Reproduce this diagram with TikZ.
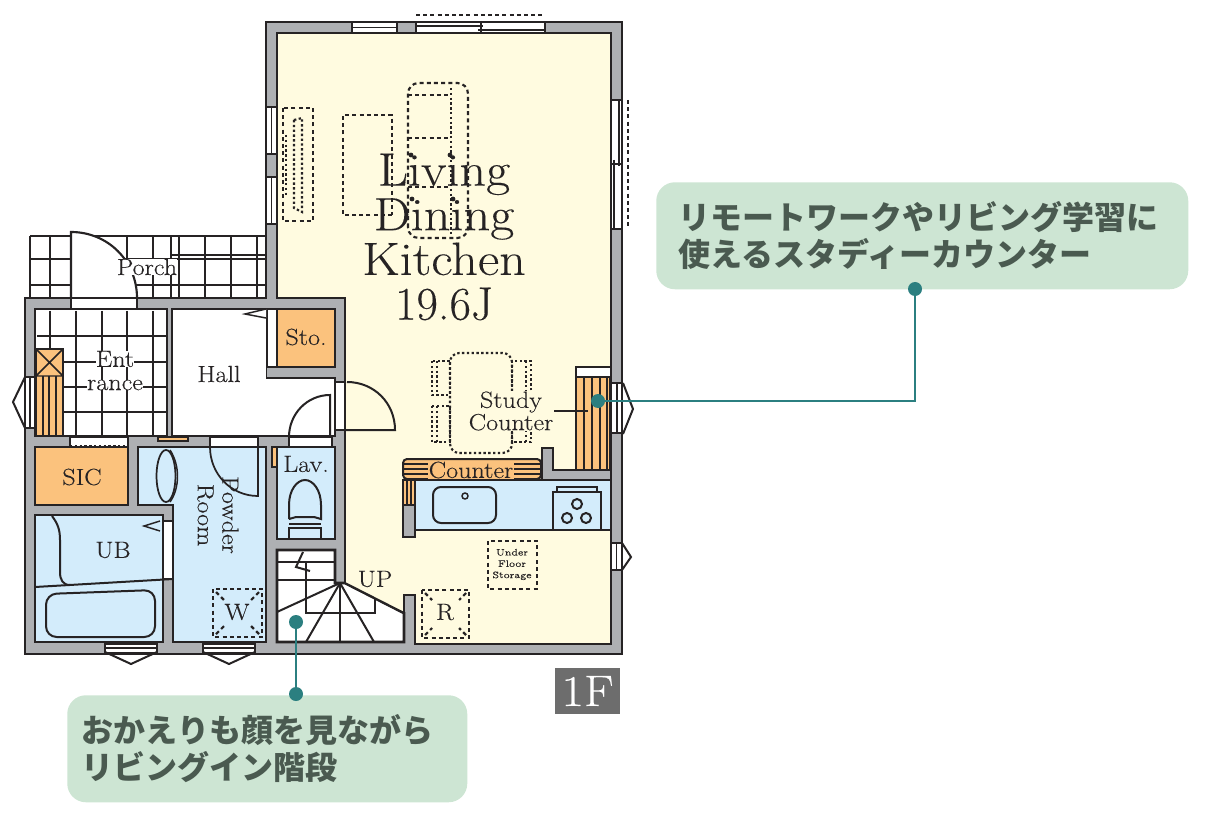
\documentclass[tikz,border=0pt]{standalone}
\usepackage{fontspec}
\setmainfont{Latin Modern Roman}[FakeStretch=1.12, FakeBold=0.2]
\newfontfamily\jpfont{Noto Sans CJK JP}
\newfontfamily\numfont{Latin Modern Roman}[FakeBold=0.2]
\usepackage{tikz}
\usetikzlibrary{calc,positioning}
\definecolor{wallgray}{HTML}{AEB0B3}
\definecolor{linedark}{HTML}{262324}
\definecolor{creamroom}{HTML}{FFFBE0}
\definecolor{blueroom}{HTML}{D3ECFB}
\definecolor{orangeroom}{HTML}{FBC27D}
\definecolor{tealmark}{HTML}{2B7F80}
\definecolor{calloutgreen}{HTML}{CDE5D3}
\definecolor{callouttext}{HTML}{4A5A50}
\definecolor{floorgray}{HTML}{6D6D6D}

\begin{document}
\begin{tikzpicture}[x=0.75pt, y=-0.75pt, line join=miter,
  room/.style={draw=linedark, line width=2.1pt},
  wall/.style={draw=linedark, line width=1.5pt, fill=wallgray},
  thin/.style={draw=linedark, line width=1.1pt},
  fine/.style={draw=linedark, line width=0.85pt},
  opening/.style={draw=linedark, line width=1.1pt, fill=white},
  furn/.style={draw=linedark, line width=1.6pt, dash pattern=on 3pt off 2.4pt},
  dots/.style={draw=linedark, line width=1.6pt, dash pattern=on 1.8pt off 1.8pt},
  label/.style={text=linedark, inner sep=0.6pt, align=center, font=\fontsize{17.5}{17.5}\selectfont},
  halo/.style={label, fill=white, inner sep=0pt},
  callout/.style={fill=calloutgreen, rounded corners=14pt, anchor=north west, inner ysep=0pt, inner xsep=17pt,
    minimum height=80.25pt, align=left, text=callouttext,
    font=\jpfont\bfseries\fontsize{24}{27.75}\selectfont},
  tealdot/.style={circle, fill=tealmark, inner sep=0pt, minimum size=10.5pt},
  leader/.style={draw=tealmark, line width=1.1pt}]
\useasboundingbox (0,0) rectangle (1230,816);

%Porch tiles
\foreach \tx in {30,50,127,153,179,205,231,257}
  \draw[fine] (\tx,236) -- (\tx,298);
\foreach \ty in {259,285}
  \draw[fine] (30,\ty) -- (267,\ty);
\draw[thin] (30,236) -- (267,236);
\draw[thin] (171,255) -- (267,255);
\draw[thin] (171,236) -- (171,298);
\fill[white] (71,232) .. controls (108,232) and (137,261) .. (137,298) -- (71,298) -- cycle;
\draw[thin, line width=1.6pt] (137,298) .. controls (137,261) and (108,232) .. (71,232) -- (71,298);

%Walls
\draw[wall] (266,22) -- (622,22) -- (622,654) -- (25,654) -- (25,298) -- (266,298) -- cycle;

%Rooms
\draw[room, fill=white] (277,550) -- (335,550) -- (335,583) -- (345,583) -- (404,613) -- (404,642) -- (277,642) -- cycle;
\fill[creamroom] (277,33) -- (611,33) -- (611,644) -- (415,644) -- (415,595) -- (404,595) -- (404,613) -- (345,583) -- (345,298) -- (277,298) -- cycle;
\draw[room] (345,583) -- (345,298) -- (277,298) -- (277,33) -- (611,33) -- (611,644) -- (415,644) -- (415,595) -- (404,595) -- (404,613);
\draw[thin, line width=1.5pt] (345,583) -- (404,613);
\draw[room, fill=white] (35,309) rectangle (167,436);
\draw[room, fill=white] (172,309) -- (267,309) -- (267,378) -- (335,378) -- (335,436) -- (172,436) -- cycle;
\draw[room, fill=orangeroom] (277,309) rectangle (335,367);
\draw[wall, draw=none] (267,367) rectangle (335,378);
\draw[thin, line width=1.6pt] (267,367) -- (335,367) (267,378) -- (335,378);
\draw[room, fill=orangeroom] (35,447) rectangle (128,505);
\draw[room, fill=blueroom] (138,447) -- (266,447) -- (266,642) -- (173,642) -- (173,505) -- (138,505) -- cycle;
\draw[room, fill=blueroom] (277,447) rectangle (335,539);
\draw[room, fill=blueroom] (35,515) rectangle (163,642);

%Entrance tiles
\foreach \tx in {50,76,102,127,153}
  \draw[fine] (\tx,311) -- (\tx,435);
\foreach \ty in {336,362,387,412}
  \draw[fine] (37,\ty) -- (166,\ty);

%Shoe cupboard
\draw[thin, fill=orangeroom] (36,349) rectangle (63,436);
\draw[thin] (36,349) -- (63,376) (63,349) -- (36,376) (36,376) -- (63,376);
\foreach \sx in {43,49,56}
  \draw[fine] (\sx,376) -- (\sx,436);

%Openings
\draw[opening] (71,298) rectangle (137,309);
\draw[opening] (267,309) rectangle (277,367);
\draw[thin, fill=white] (266,309) -- (245,314) -- (266,318);
\draw[opening] (70,437) rectangle (128,447);
\draw[dots, draw=linedark] (70,446) -- (128,446);
\draw[opening] (335,382) rectangle (345,430);
\draw[opening] (210,437) rectangle (258,447);
\draw[opening] (289,437) rectangle (332,447);
\draw[opening] (163,521) rectangle (173,579);
\draw[thin] (160,521) -- (144,526) -- (160,531);
\draw[thin, fill=orangeroom] (158,437) rectangle (188,441);
\draw[fine, fill=orangeroom] (272,447) rectangle (277,467);

%Doors
\draw[thin, line width=1.5pt] (289,437) .. controls (289,414) and (307,395) .. (330,395) -- (330,437);
\draw[thin, line width=1.5pt] (347,382) .. controls (374,382) and (395,403) .. (395,430) -- (345,430);
\draw[thin, line width=1.3pt] (210,447) .. controls (210,474) and (231,496) .. (258,496) -- (258,447);

%Windows
\foreach \wa/\wb in {107/154,177/224}{
  \draw[opening] (266,\wa) rectangle (277,\wb);
  \draw[thin] (271.5,\wa) -- (271.5,\wb);
}
\draw[opening] (352,22) rectangle (397,33);
\draw[thin] (352,27.5) -- (397,27.5);
\draw[opening] (416,22) rectangle (545,33);
\draw[thin, line width=1.5pt] (416,26) -- (483,26) (478,30) -- (545,30);
\draw[thin] (481,21) -- (481,33);
\draw[furn] (416,15) -- (545,15);
\draw[opening] (611,100) rectangle (622,229);
\draw[thin, line width=1.5pt] (619,100) -- (619,166) (614,160) -- (614,229);
\draw[thin] (610,164) -- (623,164);
\draw[furn] (628,100) -- (628,229);
\draw[opening] (25,377) rectangle (35,428);
\draw[thin] (30,377) -- (30,428);
\draw[thin, line width=1.5pt] (25,377) -- (13,402) -- (25,428);
\draw[opening] (611,383) rectangle (622,433);
\draw[thin] (617,383) -- (617,433);
\draw[thin, line width=1.5pt] (623,383) -- (633,409) -- (623,434);
\draw[opening] (611,543) rectangle (622,570);
\draw[thin] (616.5,543) -- (616.5,570);
\draw[thin, line width=1.5pt] (622,543) -- (631,557) -- (622,570);
\foreach \wa/\wb in {105/157,203/255}{
  \draw[opening] (\wa,644) rectangle (\wb,653);
  \draw[thin] (\wa,648) -- (\wb,648);
  \draw[thin, line width=1.5pt] (\wa,652) -- ({(\wa+\wb)/2},664) -- (\wb,652);
}

%Living furniture
\draw[furn] (283,108) rectangle (313,221);
\draw[dots] (294,120) -- (294,208) -- (302,212) -- (302,118) -- (294,120);
\draw[dots] (286,135) -- (286,197);
\draw[furn] (392,215) -- (343,215) -- (343,115) -- (392,115) -- (392,215);
\draw[furn, rounded corners=8pt] (408,238) -- (408,83) -- (468,83) -- (468,238) -- cycle;
\draw[dots] (451,88) -- (451,236);
\draw[furn] (408,95) -- (451,95) (408,138) -- (451,138) (408,187) -- (451,187);
\foreach \fx/\fy in {411/155,450/155,412/199,453/199}
  \fill[linedark] (\fx,\fy) circle (2.4);

%Dining furniture
\draw[dots, rounded corners=7pt] (450,353) rectangle (512,453);
\foreach \ca/\cb in {361/395,406/442}{
  \draw[dots] (432,\ca) rectangle (450,\cb);
  \draw[dots] (437,\ca) -- (437,\cb);
  \draw[dots] (512,\ca) rectangle (531,\cb);
  \draw[dots] (526,\ca) -- (526,\cb);
}

%Kitchen
\draw[room, fill=blueroom] (415,480) rectangle (611,530);
\draw[wall] (542,470) -- (542,448) -- (553,448) -- (553,470) -- (611,470) -- (611,480) -- (542,480) -- cycle;
\draw[thin, line width=1.5pt, fill=orangeroom, rounded corners=3pt] (403,479) -- (403,459) -- (541,459) -- (541,479) -- cycle;
\foreach \cy in {464,469,474}
  \draw[fine] (404,\cy) -- (540,\cy);
\draw[thin, fill=orangeroom] (403,480) rectangle (415,505);
\foreach \cx in {407,411}
  \draw[fine] (\cx,480) -- (\cx,505);
\draw[wall] (403,505) rectangle (415,537);
\draw[thin, line width=1.5pt, rounded corners=6pt] (433,487) rectangle (496,523);
\draw[thin] (465,496) circle (3);
\draw[thin, line width=1.5pt] (553,492) rectangle (601,530);
\draw[thin] (557,492) -- (557,487) -- (597,487) -- (597,492);
\foreach \bx/\by in {577/504,567/518,586/518}
  \draw[thin, line width=1.5pt] (\bx,\by) circle (5);

%Study counter
\draw[room, fill=white] (576,367) rectangle (611,377);
\draw[thin, fill=orangeroom] (576,377) rectangle (610,470);
\foreach \sx in {584,592,600,607}
  \draw[fine, line width=0.9pt] (\sx,377) -- (\sx,470);

%Bath
\draw[thin, line width=1.5pt] (52,516) .. controls (58,524) and (60,530) .. (60,540) -- (60,572) .. controls (60,580) and (63,585) .. (70,585);
\draw[thin, line width=1.5pt] (35,587) -- (173,579);
\draw[thin, line width=1.5pt, rounded corners=8pt] (46,594) -- (155,590) -- (155,637) -- (46,637) -- cycle;
\draw[thin, line width=1.3pt] (166,476) ellipse (9.5 and 26);
\draw[thin] (170,450) .. controls (180,465) and (180,488) .. (170,502);

%Toilet
\draw[thin, line width=1.5pt] (289,519) -- (289,505) .. controls (289,490) and (297,480) .. (305,480) .. controls (313,480) and (321,490) .. (321,505) -- (321,519) -- (314,517) -- (296,517) -- (289,519);
\draw[thin, line width=1.5pt] (289,538) -- (289,528) -- (321,528) -- (321,538);
\draw[thin, line width=1.5pt] (289,524) -- (321,524);

%Stairs
\draw[thin] (277,562) -- (335,562) (277,580) -- (335,580);
\draw[thin, line width=1.5pt] (306,562) -- (306,613) -- (375,613) -- (375,598);
\foreach \ex/\ey in {277/612,306/642,340/642,374/642}
  \draw[thin, line width=1.5pt] (340,583) -- (\ex,\ey);
\draw[thin, line width=1.5pt] (303,552) -- (296,567) -- (310,571);

%Marks on floor
\draw[furn] (422,590) rectangle (469,638);
\draw[furn] (488,541) rectangle (537,589);
\draw[furn] (213,589) rectangle (262,637);
\draw[furn] (216,592) -- (226,602) (259,592) -- (249,602) (216,634) -- (226,624) (259,634) -- (249,624);
\draw[furn] (425,593) -- (432,600) (466,593) -- (459,600) (425,635) -- (432,628) (466,635) -- (459,628);

%Text
\node[label, font=\fontsize{35}{33.5}\selectfont] (ldk) at (444,237) {Living\\Dining\\Kitchen\\{\numfont 19.6J}};
\node[halo] (porch) at (147,267) {Porch};
\node[label] (hall) at (219,374) {Hall};
\node[label] (sto) at (306,337) {Sto.};
\node[halo] (ent) at (115,359) {Ent};
\node[halo] (rance) at (115,385) {rance};
\node[label] (sic) at (82,477) {SIC};
\node[label] (lav) at (306,464) {Lav.};
\node[label] (ub) at (113,550) {UB};
\node[label, rotate=-90, font=\fontsize{17.5}{18.5}\selectfont] (powder) at (218,515) {Powder\\Room};
\node[label] (up) at (375,579) {UP};
\node[label] (rmark) at (445,612) {R};
\node[label] (wmark) at (237,612) {W};
\node[label, font=\fontsize{7}{8.5}\selectfont] (under) at (512,564.5) {Under\\Floor\\Storage};
\node[label, fill=creamroom, font=\fontsize{17.5}{14.25}\selectfont] (study) at (511,411) {Study\\Counter};
\node[label, fill=orangeroom] (counter) at (471,470) {Counter};
\draw[thin, line width=1.5pt] (study.east) -- (588,411);
\node[fill=floorgray, text=white, minimum width=48.75pt, minimum height=34.5pt, inner sep=0pt, font=\fontsize{33}{33}\selectfont] (floortag) at (587.5,691) {1F};

%Callouts
\node[callout, text width=365pt] (calla) at (656,182) {リモートワークやリビング学習に\\使えるスタディーカウンター};
\node[callout, inner xsep=11pt, text width=278pt] (callb) at (67,695) {おかえりも顔を見ながら\\リビングイン階段};
\node[tealdot] (dota) at (598,401) {};
\node[tealdot] (dotb) at (915,289) {};
\node[tealdot] (dotc) at (296,622) {};
\node[tealdot] (dotd) at (296,694) {};
\draw[leader] (dota.center) -| (dotb.center);
\draw[leader] (dotc.center) -- (dotd.center);

\end{tikzpicture}
\end{document}
